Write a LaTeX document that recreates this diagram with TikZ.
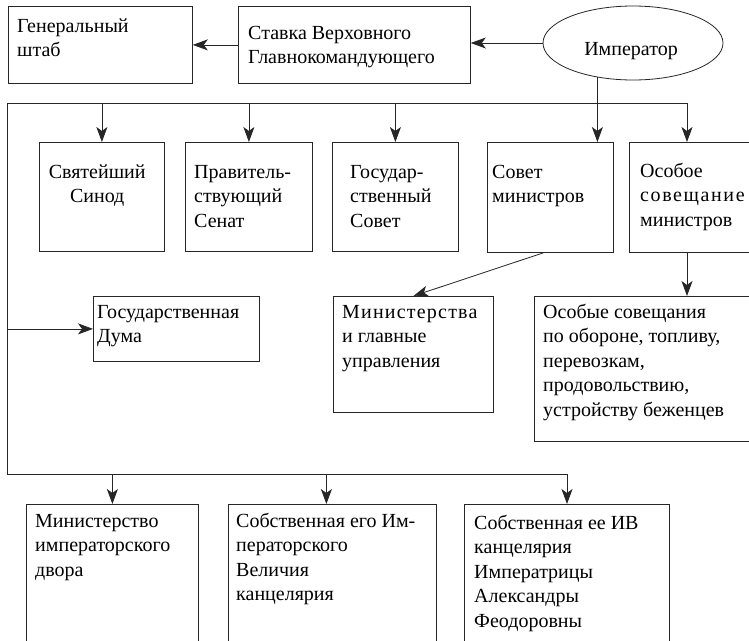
\documentclass[tikz,border=0pt]{standalone}
\usepackage{fontspec}
\setmainfont{Liberation Serif}
\newfontfamily\spacedA[LetterSpace=8]{Liberation Serif}
\newfontfamily\spacedB[LetterSpace=6]{Liberation Serif}
\usetikzlibrary{arrows.meta,shapes.geometric}
\newcommand{\boxtxt}[1]{\parbox[t]{240pt}{\raggedright #1}}
\tikzset{
  ln/.style={line width=0.8pt, draw=black!85},
  arr/.style={ln, -{Stealth[length=15pt,width=11pt,inset=4pt]}},
  orgbox/.style={ln, draw, rectangle, inner sep=0pt, anchor=north west},
  txt/.style={inner sep=0pt, anchor=base west, font=\fontsize{20}{24.5}\selectfont}
}
\begin{document}
\begin{tikzpicture}[x=1pt,y=-1pt]
\clip (0,0) rectangle (749,640);
\fill[white] (0,0) rectangle (749,640);
% top row
\node[orgbox, minimum width=184pt, minimum height=77pt] (gs) at (8,6) {};
\node[orgbox, minimum width=232pt, minimum height=77pt] (stavka) at (238,6) {};
\node[ln, draw, ellipse, minimum width=180pt, minimum height=74pt, inner sep=0pt] (imp) at (633,43) {};
\node[txt, anchor=base] (imp-t) at (631,55) {Император};
\node[txt] (gs-t) at (17,32) {\boxtxt{Генеральный\\штаб}};
\node[txt] (stavka-t) at (248,39) {\boxtxt{Ставка Верховного\\Главнокомандующего}};
% second row
\node[orgbox, minimum width=125pt, minimum height=109pt] (sinod) at (39,142) {};
\node[orgbox, minimum width=127pt, minimum height=109pt] (senat) at (185,142) {};
\node[orgbox, minimum width=126pt, minimum height=109pt] (gossovet) at (332,142) {};
\node[orgbox, minimum width=126pt, minimum height=110pt] (sovmin) at (487,142) {};
\node[orgbox, minimum width=125pt, minimum height=110pt] (osoboe) at (629,142) {};
\node[txt] (sinod-t) at (47,178) {\parbox[t]{100pt}{\centering Святейший\\Синод}};
\node[txt] (senat-t) at (194,178) {\boxtxt{Правитель-\\ствующий\\Сенат}};
\node[txt] (gossovet-t) at (350,178) {\boxtxt{Государ-\\ственный\\Совет}};
\node[txt] (sovmin-t) at (492,178) {\boxtxt{Совет\\министров}};
\node[txt] (osoboe-t) at (640,177) {\boxtxt{Особое\\{\spacedA совещание}\\министров}};
% third row
\node[orgbox, minimum width=166pt, minimum height=65pt] (duma) at (93,296) {};
\node[orgbox, minimum width=160pt, minimum height=116pt] (minist) at (333,296) {};
\node[orgbox, minimum width=220pt, minimum height=145pt] (osobye) at (534,296) {};
\node[txt] (duma-t) at (97,318) {\boxtxt{Государственная\\Дума}};
\node[txt] (minist-t) at (342,318) {\boxtxt{{\spacedB Министерства}\\и главные\\управления}};
\node[txt] (osobye-t) at (543,318) {\boxtxt{Особые совещания\\по обороне, топливу,\\перевозкам,\\продовольствию,\\устройству беженцев}};
% fourth row
\node[orgbox, minimum width=172pt, minimum height=150pt] (mid) at (26,504) {};
\node[orgbox, minimum width=208pt, minimum height=150pt] (sobst1) at (228,504) {};
\node[orgbox, minimum width=205pt, minimum height=150pt] (sobst2) at (464,504) {};
\node[txt] (mid-t) at (35,527) {\boxtxt{Министерство\\императорского\\двора}};
\node[txt] (sobst1-t) at (236,527) {\boxtxt{Собственная его Им-\\ператорского\\Величия\\канцелярия}};
\node[txt] (sobst2-t) at (474,529) {\boxtxt{Собственная ее ИВ\\канцелярия\\Императрицы\\Александры\\Феодоровны}};
% bus coordinates
\coordinate (b1) at (7,103);
\coordinate (b2) at (687,103);
\coordinate (b3) at (7,474);
\coordinate (b4) at (567,474);
% connectors
\draw[arr] (stavka.west) -- (gs.east);
\draw[arr] (imp.west) -- (imp.west -| stavka.east);
\draw[ln] (imp.-136.6) -- (imp.-136.6 |- b1);
\draw[ln] (b1) -- (b2);
\draw[ln] (b1) -- (b3) -- (b4);
\draw[arr] (sinod.north |- b1) -- (sinod.north);
\draw[arr] (senat.north |- b1) -- (senat.north);
\draw[arr] (gossovet.north |- b1) -- (gossovet.north);
\draw[arr] (imp.-136.6 |- b1) -- (imp.-136.6 |- sovmin.north);
\draw[arr] (b2) -- (b2 |- osoboe.north);
\draw[arr] (b1 |- duma.west) -- (duma.west);
\draw[arr] ([xshift=-7pt]sovmin.south) -- (minist.north);
\draw[arr] (b2 |- osoboe.south) -- (b2 |- osobye.north);
\draw[arr] (mid.north |- b3) -- (mid.north);
\draw[arr] ([xshift=-6pt]sobst1.north |- b3) -- ([xshift=-6pt]sobst1.north);
\draw[arr] (b4) -- (b4 |- sobst2.north);
\end{tikzpicture}
\end{document}
